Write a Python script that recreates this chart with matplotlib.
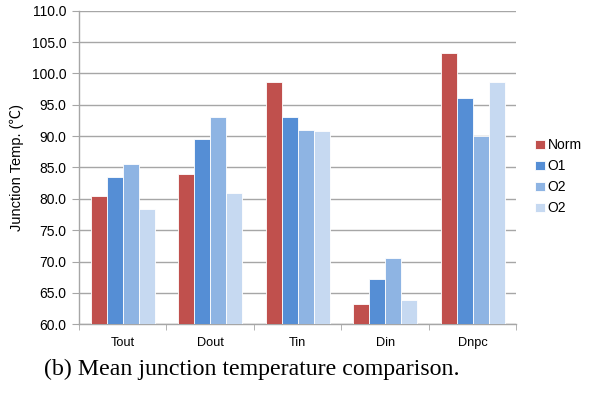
import matplotlib
matplotlib.use("Agg")
import matplotlib.pyplot as plt
import numpy as np

categories = ["Tout", "Dout", "Tin", "Din", "Dnpc"]
series_names = ["Norm", "O1", "O2", "O2"]
norm = [80.4, 84.0, 98.7, 63.2, 103.3]
o1 = [83.4, 89.6, 93.1, 67.2, 96.1]
o2 = [85.6, 93.1, 91.0, 70.6, 90.0]
o2b = [78.4, 80.9, 90.8, 63.8, 98.7]
colors = ["#C0504D", "#558ED5", "#8EB4E3", "#C6D9F1"]
yticks = [60.0, 65.0, 70.0, 75.0, 80.0, 85.0, 90.0, 95.0, 100.0, 105.0, 110.0]

plt.rcParams['font.family'] = ['Liberation Sans', 'Noto Sans CJK SC', 'DejaVu Sans']

fig = plt.figure(figsize=(5.9, 3.94), dpi=100)
ax = fig.add_axes([0.134, 0.177, 0.741, 0.796])

x = np.arange(len(categories))
w = 0.183
data = [norm, o1, o2, o2b]
for i, (vals, c, name) in enumerate(zip(data, colors, series_names)):
    ax.bar(x + (i - 1.5) * w, vals, width=w, color=c, label=name,
           edgecolor="white", linewidth=0.6, zorder=3)

ax.set_ylim(60, 110)
ax.set_xlim(-0.5, len(categories) - 0.5)
ax.set_yticks(yticks)
ax.set_yticklabels([f"{v:.1f}" for v in yticks], fontsize=10)
ax.yaxis.grid(True, color="#A6A6A6", linewidth=1.0, zorder=0)
ax.set_axisbelow(True)

ax.set_xticks(x)
ax.set_xticklabels(categories, fontsize=9.2)
ax.set_xticks(np.arange(-0.5, len(categories), 1.0), minor=True)
ax.tick_params(axis="x", which="major", length=0, pad=9)
ax.tick_params(axis="x", which="minor", length=4, color="#A6A6A6", direction="out")
ax.tick_params(axis="y", length=5, color="#A6A6A6", direction="out", pad=4)

for s in ["top", "right"]:
    ax.spines[s].set_visible(False)
for s in ["left", "bottom"]:
    ax.spines[s].set_color("#A6A6A6")
    ax.spines[s].set_linewidth(1.0)

ax.set_ylabel("Junction Temp. (℃)", fontsize=10.5, labelpad=6)

leg = ax.legend(loc="center left", bbox_to_anchor=(1.03, 0.47), frameon=False,
                fontsize=10, handlelength=0.7, handleheight=0.7,
                handletextpad=0.2, labelspacing=0.5, borderaxespad=0)

fig.text(0.075, 0.047, "(b) Mean junction temperature comparison.",
         fontsize=17.2, family=["Liberation Serif", "DejaVu Serif"], ha="left", va="baseline")

fig.savefig("out.png", dpi=100)
